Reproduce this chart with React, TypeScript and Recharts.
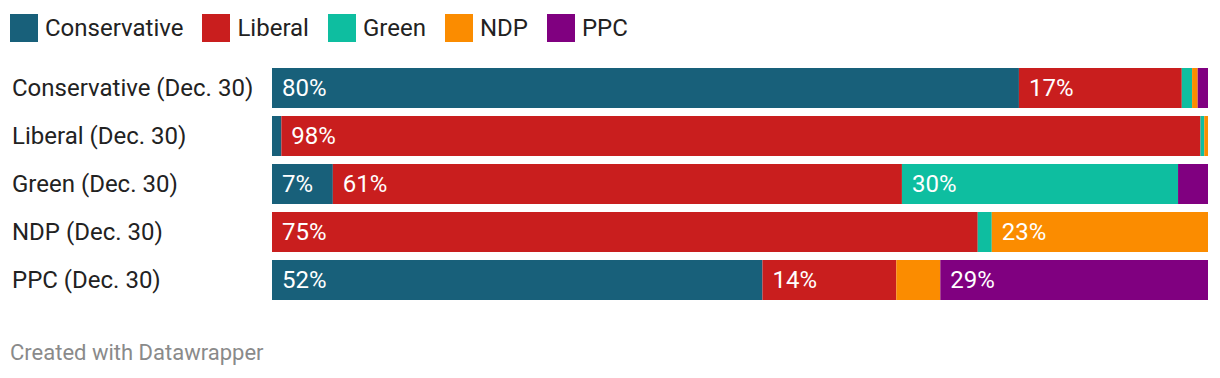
import { BarChart, Bar, XAxis, YAxis, LabelList } from "recharts";

const parties = ["Conservative", "Liberal", "Green", "NDP", "PPC"];
const partyKeys = ["conservative", "liberal", "green", "ndp", "ppc"];
const colors = ["#18607a", "#c91e1e", "#0ebea0", "#fb8c00", "#800080"];

const categories = [
  "Conservative (Dec. 30)",
  "Liberal (Dec. 30)",
  "Green (Dec. 30)",
  "NDP (Dec. 30)",
  "PPC (Dec. 30)",
];

// second-choice share (%) by first-choice party
const conservative = [79.8, 1.0, 6.5, 0, 52.4];
const liberal = [17.4, 98.2, 60.8, 75.4, 14.3];
const green = [1.1, 0.4, 29.5, 1.5, 0];
const ndp = [0.6, 0.4, 0, 23.1, 4.7];
const ppc = [1.1, 0, 3.2, 0, 28.6];

const seriesValues = [conservative, liberal, green, ndp, ppc];

const data = categories.map((name, i) => {
  const row: Record<string, string | number> = { name };
  partyKeys.forEach((k, j) => {
    row[k] = seriesValues[j][i];
  });
  return row;
});

const FONT = "Roboto, sans-serif";

function CategoryTick(props: any) {
  const { y, payload } = props;
  return (
    <text x={12} y={y} dy={8} textAnchor="start" fontSize={24} fill="#222" fontFamily={FONT}>
      {payload.value}
    </text>
  );
}

function SegmentLabel(props: any) {
  const { x, y, height, value } = props;
  if (value == null || value < 5) return null;
  return (
    <text
      x={x + 10}
      y={y + height / 2}
      dy={8}
      textAnchor="start"
      fontSize={24}
      fill="#ffffff"
      fontFamily={FONT}
    >
      {Math.round(value)}%
    </text>
  );
}

export default function App() {
  return (
    <div style={{ position: "relative", width: 1220, height: 378, margin: -8, background: "#fff" }}>
      <div
        style={{
          position: "absolute",
          top: 14,
          left: 10,
          display: "flex",
          alignItems: "center",
          fontFamily: FONT,
          fontSize: 24,
          color: "#222",
          lineHeight: "28px",
        }}
      >
        {parties.map((p, i) => (
          <div key={p} style={{ display: "flex", alignItems: "center", marginRight: 19 }}>
            <span style={{ width: 28, height: 28, background: colors[i], display: "inline-block", marginRight: 7 }} />
            <span>{p}</span>
          </div>
        ))}
      </div>
      <div style={{ position: "absolute", top: 0, left: 0 }}>
        <BarChart
          width={1220}
          height={310}
          data={data}
          layout="vertical"
          margin={{ top: 64, right: 12, bottom: 6, left: 0 }}
          barCategoryGap={4}
        >
          <XAxis type="number" domain={[0, 100]} hide />
          <YAxis
            type="category"
            dataKey="name"
            width={272}
            axisLine={false}
            tickLine={false}
            tick={<CategoryTick />}
          />
          {partyKeys.map((k, i) => (
            <Bar key={k} dataKey={k} name={parties[i]} stackId="a" fill={colors[i]} isAnimationActive={false}>
              <LabelList dataKey={k} content={<SegmentLabel />} />
            </Bar>
          ))}
        </BarChart>
      </div>
      <div
        style={{
          position: "absolute",
          left: 10,
          top: 340,
          fontFamily: FONT,
          fontSize: 22,
          color: "#8a8a8a",
        }}
      >
        Created with Datawrapper
      </div>
    </div>
  );
}
